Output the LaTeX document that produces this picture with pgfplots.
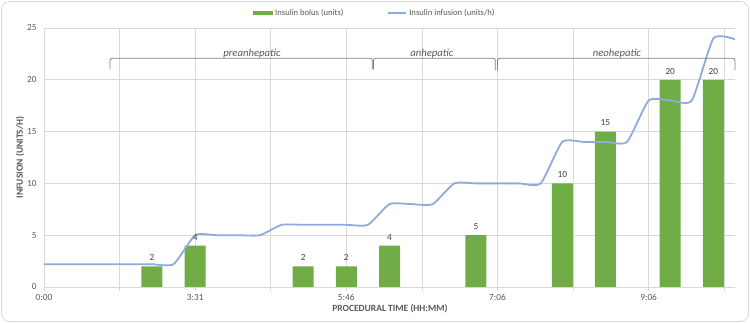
\documentclass[border=0pt]{standalone}
\usepackage{pgfplots}
\pgfplotsset{compat=1.18}
\usepackage{fontspec}
\setmainfont{Carlito}
\definecolor{bargreen}{HTML}{70AD47}
\definecolor{lineblue}{HTML}{8FAADC}
\definecolor{txtgray}{HTML}{595959}
\definecolor{txtdark}{HTML}{404040}
\definecolor{gridgray}{HTML}{D9D9D9}
\definecolor{brgray}{HTML}{7F7F7F}
\begin{document}
\begin{tikzpicture}[x=1pt,y=1pt]
\useasboundingbox (0,0) rectangle (750,323);
\draw[gridgray, rounded corners=8pt, line width=0.8pt] (1.5,1.5) rectangle (748.5,321.5);
\begin{axis}[
  at={(44pt,36pt)}, anchor=south west,
  scale only axis, width=691pt, height=259pt,
  xmin=0, xmax=32, ymin=0, ymax=25,
  xtick={0,3.5,7,10.5,14,17.5,21,24.5,28,31.5},
  xticklabels={0:00,,3:31,,5:46,,7:06,,9:06,},
  ytick={0,5,10,15,20,25},
  grid=major,
  major grid style={gridgray, line width=0.75pt},
  axis x line*=bottom, axis y line*=left,
  x axis line style={gridgray, line width=0.75pt},
  y axis line style={draw=none},
  tick align=outside,
  major tick length=4pt,
  xtick style={gridgray, line width=0.75pt},
  ytick style={draw=none},
  /pgf/number format/assume math mode=true,
  tick label style={font=\fontsize{9.3}{11}\selectfont, text=txtgray},
  xlabel={PROCEDURAL TIME (HH:MM)},
  ylabel={INFUSION (UNITS/H)},
  label style={font=\fontsize{9.5}{11}\selectfont\bfseries, text=txtgray},
  xlabel style={at={(axis description cs:0.5007,-0.085)}, anchor=center},
  ylabel style={at={(axis description cs:-0.0347,0.5)}, anchor=center},
  legend columns=2,
  legend cell align=left,
  legend style={draw=none, fill=none, at={(axis description cs:0.3025,1.058)}, anchor=west,
    font=\fontsize{8.6}{10}\selectfont, text=txtgray, inner sep=0pt,
    /tikz/every even column/.append style={column sep=42pt}},
  clip=false,
]
\addplot[ybar, bar width=21pt, fill=bargreen, draw=none,
  nodes near coords,
  nodes near coords style={font=\fontsize{9.3}{11}\selectfont, text=txtdark, yshift=2pt},
  legend image code/.code={\fill[bargreen] (0pt,-2pt) rectangle (20pt,2pt);}]
coordinates {(5,2) (7,4) (12,2) (14,2) (16,4) (20,5) (24,10) (26,15) (29,20) (31,20)};
\addlegendentry{Insulin bolus (units)}
\addplot[lineblue, line width=1.8pt, smooth, tension=0.33, mark=none,
  legend image code/.code={\draw[lineblue, line width=1.8pt] (0pt,0pt) -- (18pt,0pt);}]
coordinates {(0,2.2) (1,2.2) (2,2.2) (3,2.2) (4,2.2) (5,2.2) (6,2.2) (7,5) (8,5) (9,5) (10,5)
 (11,6) (12,6) (13,6) (14,6) (15,6) (16,8) (17,8) (18,8) (19,10) (20,10) (21,10) (22,10) (23,10)
 (24,14) (25,14) (26,14) (27,14) (28,18) (29,18) (30,18) (31,24) (32,23.9)};
\addlegendentry{Insulin infusion (units/h)}
\draw[brgray, line width=0.8pt, rounded corners=2pt] (axis cs:3.06,21.0) -- (axis cs:3.06,22.07) -- (axis cs:15.2,22.07) -- (axis cs:15.2,21.0);
\draw[brgray, line width=0.8pt, rounded corners=2pt] (axis cs:15.26,21.0) -- (axis cs:15.26,22.07) -- (axis cs:20.9,22.07) -- (axis cs:20.9,20.9);
\draw[brgray, line width=0.8pt, rounded corners=2pt] (axis cs:21.0,20.9) -- (axis cs:21.0,22.07) -- (axis cs:32,22.07) -- (axis cs:32,20.9);
\node[anchor=base, font=\fontsize{10.7}{12}\selectfont\itshape, text=txtgray] at (axis cs:9.63,22.25) {preanhepatic};
\node[anchor=base, font=\fontsize{10.7}{12}\selectfont\itshape, text=txtgray] at (axis cs:17.96,22.25) {anhepatic};
\node[anchor=base, font=\fontsize{10.7}{12}\selectfont\itshape, text=txtgray] at (axis cs:26.53,22.25) {neohepatic};
\end{axis}
\end{tikzpicture}
\end{document}
